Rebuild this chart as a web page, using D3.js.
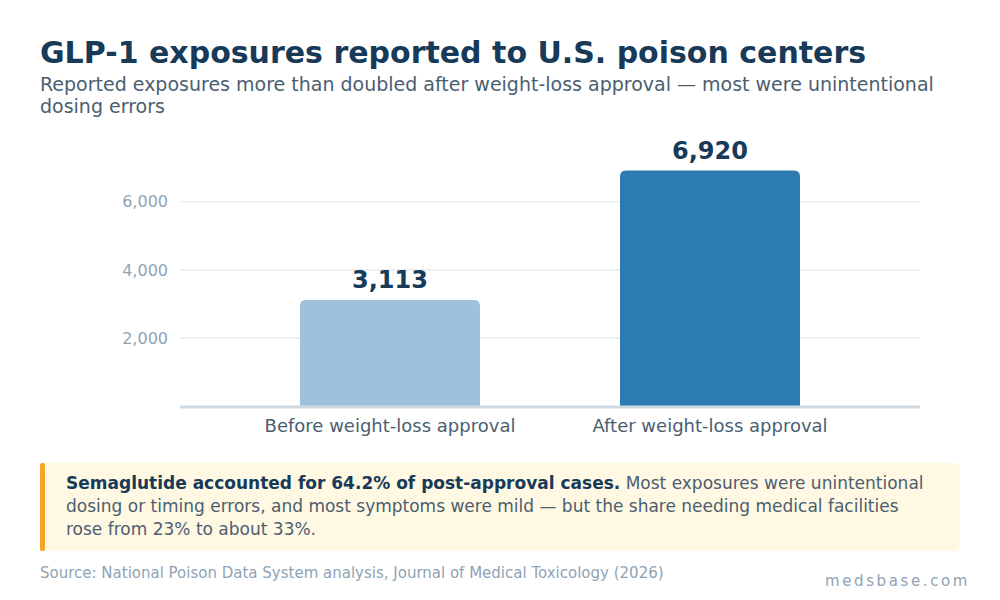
<!DOCTYPE html>
<html>
<head>
<meta charset="utf-8">
<script src="https://cdn.jsdelivr.net/npm/d3@7"></script>
<style>
  body { margin: 0; background: #fff; font-family: "DejaVu Sans", sans-serif; }
</style>
</head>
<body>
<svg id="chart" width="1000" height="600"></svg>
<script>
// chart data
const categories = ["Before weight-loss approval", "After weight-loss approval"];
const exposures = [3113, 6920];
const barColors = ["#9fc1dc", "#2c7bb1"];
const yTicks = [2000, 4000, 6000];

const svg = d3.select("#chart");
const W = 1000;

// header
svg.append("text")
    .attr("x", 40).attr("y", 63)
    .style("font-size", "30px").style("font-weight", "bold")
    .style("fill", "#163a58")
    .text("GLP-1 exposures reported to U.S. poison centers");

const subLines = ["Reported exposures more than doubled after weight-loss approval — most were unintentional", "dosing errors"];
svg.append("g").selectAll("text")
    .data(subLines)
    .join("text")
    .attr("x", 40).attr("y", (d, i) => 91 + i * 22)
    .style("font-size", "19px").style("fill", "#4b5e70")
    .text(d => d);

// plot area
const plot = { left: 180, right: 920, top: 147, bottom: 406 };

const x = d3.scaleBand()
    .domain(categories)
    .range([plot.left, plot.right])
    .paddingInner(0.4375)
    .paddingOuter(0.375);

const y = d3.scaleLinear()
    .domain([0, d3.max(exposures) * 1.1])
    .range([plot.bottom, plot.top]);

// gridlines
svg.append("g").selectAll("line")
    .data(yTicks)
    .join("line")
    .attr("x1", plot.left).attr("x2", plot.right)
    .attr("y1", d => y(d)).attr("y2", d => y(d))
    .attr("stroke", "#eef1f4").attr("stroke-width", 2);

// y axis labels
const yAxis = d3.axisLeft(y).tickValues(yTicks).tickFormat(d3.format(",")).tickSize(0).tickPadding(12);
const yg = svg.append("g")
    .attr("transform", `translate(${plot.left},0)`)
    .call(yAxis);
yg.select(".domain").remove();
yg.selectAll("text")
    .style("font-family", "DejaVu Sans, sans-serif")
    .style("font-size", "16px").style("fill", "#8fa3b5");

// bars with rounded top corners
const r = 6;
function barPath(x0, w, yTop, yBot) {
    return `M${x0},${yBot} V${yTop + r} Q${x0},${yTop} ${x0 + r},${yTop} H${x0 + w - r} Q${x0 + w},${yTop} ${x0 + w},${yTop + r} V${yBot} Z`;
}

svg.append("g").selectAll("path")
    .data(categories)
    .join("path")
    .attr("d", (d, i) => barPath(x(d), x.bandwidth(), y(exposures[i]), y(0)))
    .attr("fill", (d, i) => barColors[i]);

// value labels
svg.append("g").selectAll("text")
    .data(categories)
    .join("text")
    .attr("x", d => x(d) + x.bandwidth() / 2)
    .attr("y", (d, i) => y(exposures[i]) - 12)
    .attr("text-anchor", "middle")
    .style("font-size", "24px").style("font-weight", "bold")
    .style("fill", "#163a58")
    .text((d, i) => d3.format(",")(exposures[i]));

// baseline
svg.append("line")
    .attr("x1", plot.left).attr("x2", plot.right)
    .attr("y1", y(0) + 1).attr("y2", y(0) + 1)
    .attr("stroke", "#cfd9e2").attr("stroke-width", 3);

// category labels
const xAxis = d3.axisBottom(x).tickSize(0).tickPadding(13);
const xg = svg.append("g")
    .attr("transform", `translate(0,${plot.bottom})`)
    .call(xAxis);
xg.select(".domain").remove();
xg.selectAll("text")
    .style("font-family", "DejaVu Sans, sans-serif")
    .style("font-size", "18px").style("fill", "#4b5e70");

// callout box
const box = { x: 40, y: 463, w: 920, h: 88 };
svg.append("rect")
    .attr("x", box.x).attr("y", box.y)
    .attr("width", box.w).attr("height", box.h)
    .attr("rx", 6)
    .attr("fill", "#fff8e2");
svg.append("rect")
    .attr("x", box.x).attr("y", box.y)
    .attr("width", 5).attr("height", box.h)
    .attr("rx", 2)
    .attr("fill", "#f4a62a");

const callout = svg.append("text")
    .style("font-size", "17px").style("fill", "#4b5e70");
const l1 = callout.append("tspan").attr("x", 66).attr("y", 489);
l1.append("tspan").style("font-weight", "bold").style("fill", "#163a58")
    .text("Semaglutide accounted for 64.2% of post-approval cases.");
l1.append("tspan").text(" Most exposures were unintentional");
callout.append("tspan").attr("x", 66).attr("y", 512)
    .text("dosing or timing errors, and most symptoms were mild — but the share needing medical facilities");
callout.append("tspan").attr("x", 66).attr("y", 535)
    .text("rose from 23% to about 33%.");

// footer
svg.append("text")
    .attr("x", 40).attr("y", 578)
    .style("font-size", "15px").style("fill", "#8fa3b5")
    .text("Source: National Poison Data System analysis, Journal of Medical Toxicology (2026)");

svg.append("text")
    .attr("x", W - 30).attr("y", 586)
    .attr("text-anchor", "end")
    .style("font-size", "15px").style("fill", "#8fa3b5")
    .style("letter-spacing", "2.6px")
    .text("medsbase.com");
</script>
</body>
</html>
